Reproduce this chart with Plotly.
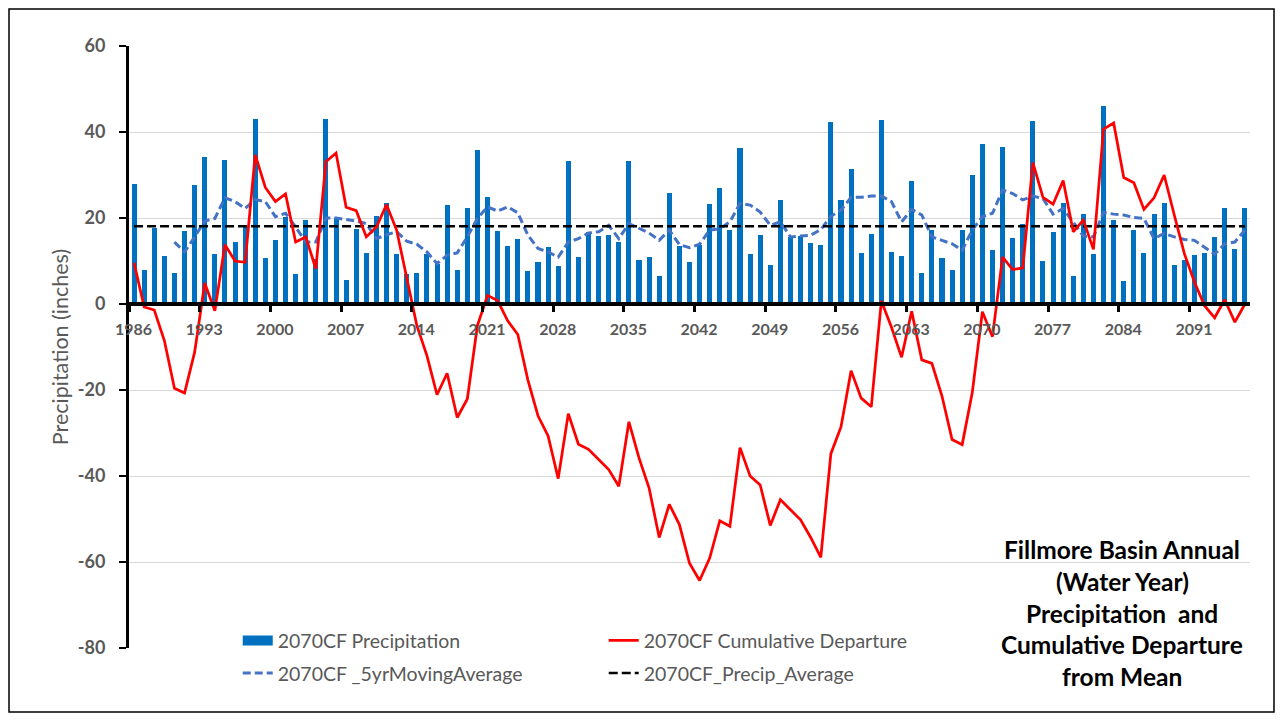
import plotly.graph_objects as go

# Water years shown as categories on the x axis
YEARS = list(range(1986, 2097))

# Annual precipitation (inches), 1986-2096
PRECIP = [
    27.8, 7.8, 17.6, 11.2, 7.2, 17.0, 27.7, 34.2, 11.7, 33.5,
    14.4, 17.9, 43.1, 10.6, 14.9, 20.2, 6.9, 19.5, 10.5, 43.0,
    20.0, 5.6, 17.4, 11.9, 20.5, 23.5, 11.6, 6.9, 7.3, 11.6,
    9.4, 23.1, 7.8, 22.4, 35.8, 24.9, 16.9, 13.5, 15.1, 7.6,
    9.8, 13.2, 8.8, 33.2, 11.0, 16.8, 15.8, 16.0, 14.4, 33.2,
    10.2, 10.9, 6.6, 25.9, 13.5, 9.7, 13.8, 23.2, 26.9, 17.1,
    36.3, 11.7, 16.0, 9.0, 24.2, 15.6, 15.8, 14.2, 13.7, 42.3,
    24.2, 31.4, 11.8, 16.3, 42.8, 12.2, 11.2, 28.7, 7.1, 17.3,
    10.8, 7.9, 17.2, 30.0, 37.2, 12.5, 36.5, 15.4, 18.7, 42.6,
    10.0, 16.8, 23.5, 6.4, 20.9, 11.6, 46.1, 19.5, 5.4, 17.2,
    11.8, 21.0, 23.5, 9.1, 10.2, 11.4, 11.8, 15.5, 22.4, 12.9,
    22.4,
]

# 5-year moving average (starts in 1990)
MOVING_AVG = [
    None, None, None, None, 14.4, 12.1, 15.6, 19.3, 19.9, 24.7,
    23.8, 22.2, 24.3, 23.8, 20.3, 21.1, 17.9, 14.4, 14.4, 20.0,
    20.0, 19.7, 19.3, 18.7, 15.2, 16.1, 16.8, 14.6, 13.9, 12.1,
    9.4, 11.3, 11.9, 15.6, 19.9, 22.6, 21.6, 22.6, 21.2, 16.0,
    12.9, 12.1, 10.9, 14.4, 15.2, 16.5, 16.8, 18.3, 15.2, 18.7,
    17.6, 16.5, 14.8, 17.2, 13.8, 13.1, 13.9, 17.2, 17.5, 19.1,
    23.4, 23.0, 21.4, 18.3, 19.1, 15.6, 15.8, 16.0, 17.3, 20.4,
    21.8, 24.8, 24.8, 25.1, 25.1, 23.8, 19.1, 22.0, 20.7, 15.6,
    14.8, 14.0, 12.5, 17.2, 20.3, 21.1, 26.5, 25.7, 24.2, 25.1,
    24.5, 20.9, 22.2, 18.9, 15.8, 15.6, 21.3, 20.9, 20.7, 20.1,
    19.9, 15.2, 16.4, 15.6, 15.0, 14.8, 13.3, 11.6, 14.0, 14.4,
    17.2,
]

# Cumulative departure from mean (inches)
CUM_DEPARTURE = [
    9.6, -0.7, -1.4, -8.5, -19.6, -20.7, -11.2, 4.9, -1.6, 13.8,
    10.0, 9.7, 34.7, 27.1, 23.8, 25.6, 14.4, 15.6, 8.2, 33.1,
    35.1, 22.5, 21.7, 15.6, 17.9, 23.1, 17.2, 5.8, -5.0, -12.0,
    -21.1, -16.1, -26.4, -22.1, -5.0, 2.0, 0.8, -3.9, -7.1, -17.7,
    -26.0, -30.7, -40.6, -25.5, -32.6, -33.8, -36.2, -38.5, -42.4, -27.4,
    -35.8, -42.8, -54.3, -46.6, -51.3, -60.3, -64.3, -59.1, -50.4, -51.7,
    -33.4, -40.0, -42.1, -51.5, -45.5, -47.8, -50.2, -54.3, -58.9, -34.8,
    -28.6, -15.5, -21.9, -23.9, 0.7, -5.4, -12.4, -1.7, -13.0, -13.8,
    -21.4, -31.5, -32.7, -20.6, -1.8, -7.6, 10.9, 8.0, 8.4, 32.9,
    24.8, 23.2, 28.7, 16.8, 19.5, 12.7, 40.7, 42.1, 29.4, 28.2,
    22.0, 24.7, 30.0, 20.7, 11.7, 5.1, -0.4, -3.2, 1.0, -4.2,
    0.0,
]

PRECIP_AVERAGE = 18.1

TICK_LABELS = ["1986", "1993", "2000", "2007", "2014", "2021", "2028", "2035",
               "2042", "2049", "2056", "2063", "2070", "2077", "2084", "2091"]
Y_TICKS = [60, 40, 20, 0, -20, -40, -60, -80]

TITLE_LINES = ["Fillmore Basin Annual", "(Water Year)", "Precipitation  and",
               "Cumulative Departure", "from Mean"]

GRAY = "#595959"
BLUE = "#0070C0"
FONT = "Lato"

# the page adds an 8px body margin, so the figure is sized to sit inside it
W, H = 1267, 705
M = dict(l=121, r=25, t=38, b=65)
PW = W - M["l"] - M["r"]
PH = H - M["t"] - M["b"]

fig = go.Figure()

fig.add_trace(go.Bar(
    x=YEARS, y=PRECIP, name="2070CF Precipitation",
    marker=dict(color=BLUE, line=dict(width=0)), width=0.5,
    showlegend=False,
))
# legend swatch for the bars (wide block like the original)
fig.add_trace(go.Scatter(
    x=[None], y=[None], name="2070CF Precipitation", mode="lines",
    line=dict(color=BLUE, width=13), legend="legend",
))
fig.add_trace(go.Scatter(
    x=YEARS, y=MOVING_AVG, name="2070CF _5yrMovingAverage", mode="lines",
    line=dict(color="#4472C4", width=3, dash="8px,4px"),
    legend="legend2",
))
fig.add_trace(go.Scatter(
    x=YEARS, y=[PRECIP_AVERAGE] * len(YEARS), name="2070CF_Precip_Average",
    mode="lines", line=dict(color="black", width=2.5, dash="9px,4px"),
    legend="legend2",
))
fig.add_trace(go.Scatter(
    x=YEARS, y=CUM_DEPARTURE, name="2070CF Cumulative Departure", mode="lines",
    line=dict(color="#FF0000", width=2.75),
    legend="legend",
))

# x axis sits on y = 0, labels slightly right of the category boundaries
zero_pos = (0 - Y_TICKS[-1]) / (Y_TICKS[0] - Y_TICKS[-1])

fig.update_xaxes(
    range=[YEARS[0] - 0.5, YEARS[-1] + 0.5],
    anchor="free", position=zero_pos,
    showline=True, linecolor="black", linewidth=4,
    tickmode="array",
    tickvals=[int(t) - 0.05 for t in TICK_LABELS],
    ticktext=TICK_LABELS,
    ticks="outside", ticklen=6, tickcolor="rgba(0,0,0,0)",
    ticklabelstandoff=4,
    tickfont=dict(family=FONT, size=16, color=GRAY, weight="bold"),
    minor=dict(tickvals=[int(t) - 0.5 for t in TICK_LABELS], ticks="outside",
               ticklen=6, tickwidth=3, tickcolor="black", showgrid=False),
    showgrid=False, zeroline=False,
)

# major ticks are invisible spacers for the labels, the visible tick marks
# are drawn as minor ticks
fig.update_yaxes(
    range=[Y_TICKS[-1], Y_TICKS[0]],
    tickmode="array", tickvals=Y_TICKS,
    ticktext=[str(v) for v in Y_TICKS],
    showline=True, linecolor="black", linewidth=3,
    ticks="outside", ticklen=18, tickcolor="rgba(0,0,0,0)",
    ticklabelstandoff=-1,
    tickfont=dict(family=FONT, size=18, color=GRAY, weight="bold"),
    minor=dict(tickvals=[v + 0.01 for v in Y_TICKS], ticks="outside",
               ticklen=7, tickwidth=2, tickcolor="black", showgrid=False),
    showgrid=True, gridcolor="#D9D9D9", gridwidth=1,
    zeroline=False,
    title=dict(text="Precipitation (inches)", standoff=4,
               font=dict(family=FONT, size=21.5, color=GRAY)),
)

legend_style = dict(
    orientation="h", x=0.097, xanchor="left", yanchor="middle",
    entrywidth=321, bgcolor="rgba(0,0,0,0)",
    font=dict(family=FONT, size=19.5, color=GRAY),
)

fig.update_layout(
    width=W, height=H,
    margin=M,
    plot_bgcolor="white", paper_bgcolor="white",
    bargap=0,
    showlegend=True,
    legend=dict(y=0.012, **legend_style),
    legend2=dict(y=-0.042, **legend_style),
)

# title block at the lower right, one annotation per line
for k, line in enumerate(TITLE_LINES):
    fig.add_annotation(
        xref="paper", yref="paper", x=0.886, y=0.163 - k * 0.0525,
        text=line, showarrow=False, xanchor="center", yanchor="middle",
        font=dict(family=FONT, size=24.5, color="black", weight="bold"),
    )

# outer chart border along the figure edge
fig.add_shape(type="rect", xref="paper", yref="paper",
              x0=(1 - M["l"]) / PW, x1=1 + (M["r"] - 1) / PW,
              y0=-(M["b"] - 1) / PH, y1=1 + (M["t"] - 1) / PH,
              line=dict(color="black", width=1.5))

fig.write_html("out.html")
